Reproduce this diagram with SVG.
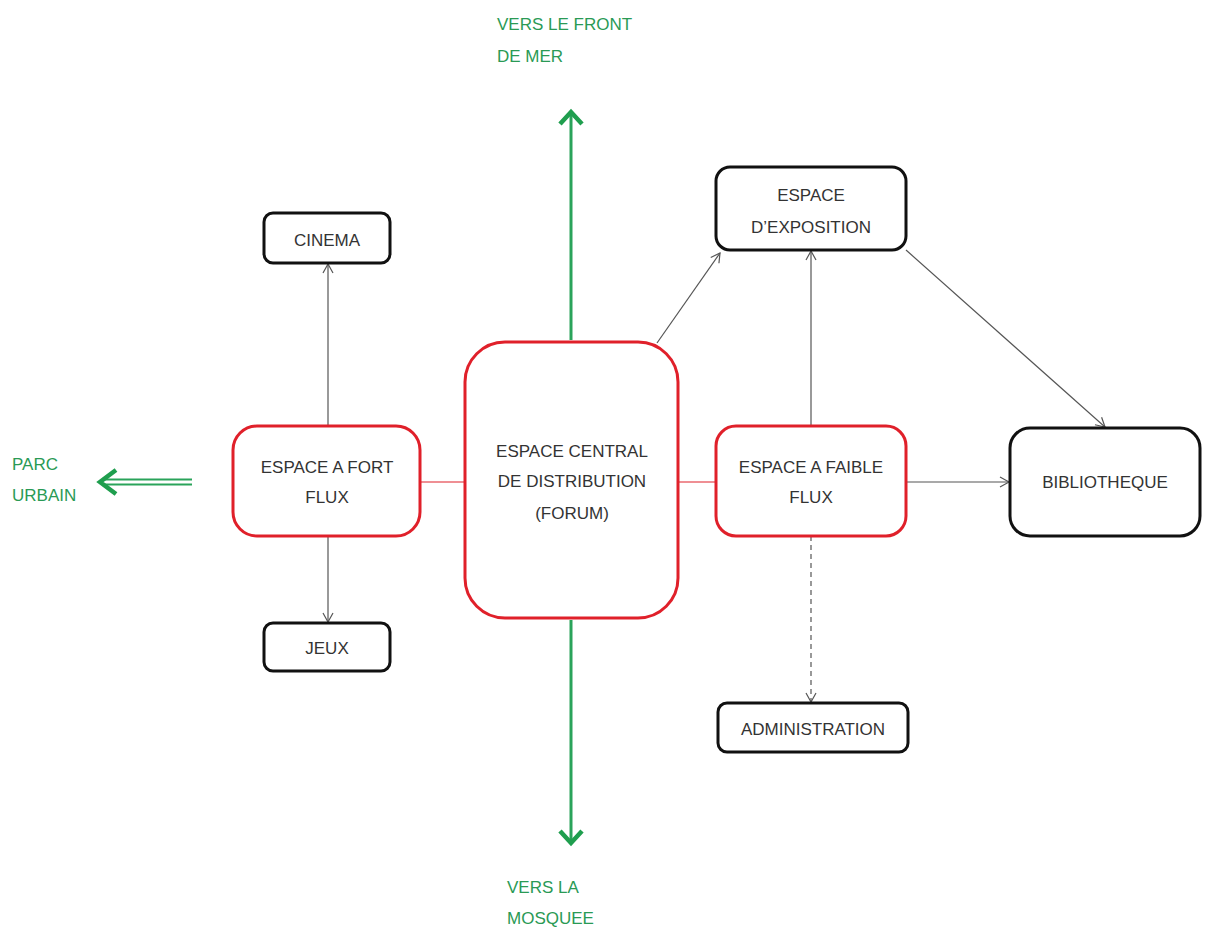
<svg xmlns="http://www.w3.org/2000/svg" width="1205" height="935" viewBox="0 0 1205 935">
<style>
.red{fill:#fff;stroke:#e0202a;stroke-width:3}
.blk{fill:#fff;stroke:#111;stroke-width:3}
.t{font-family:"Liberation Sans Narrow","Liberation Sans",Arial,sans-serif;font-size:17px;fill:#333;text-anchor:middle}
.g{font-family:"Liberation Sans Narrow","Liberation Sans",Arial,sans-serif;font-size:17px;fill:#2a9a55}
.c{stroke:#555;stroke-width:1.2;fill:none}
.gl{stroke:#2aa35a;stroke-width:3;fill:none}
</style>
<defs>
<marker id="a" markerWidth="12" markerHeight="12" refX="10" refY="6" orient="auto" markerUnits="userSpaceOnUse">
<path d="M1,1 L10,6 L1,11" fill="none" stroke="#555" stroke-width="1.2"/>
</marker>
<marker id="ga" markerWidth="30" markerHeight="30" refX="24" refY="15" orient="auto" markerUnits="userSpaceOnUse">
<path d="M12,4 L24,15 L12,26" fill="none" stroke="#1f9e4e" stroke-width="4.5"/>
</marker>
</defs>
<g id="connectors">
<line class="c" x1="328" y1="426" x2="328" y2="264" marker-end="url(#a)"/>
<line class="c" x1="328" y1="536" x2="328" y2="622" marker-end="url(#a)"/>
<line x1="420" y1="482" x2="465" y2="482" stroke="#e0202a" stroke-width="1.2"/>
<line x1="678" y1="482" x2="716" y2="482" stroke="#e0202a" stroke-width="1.2"/>
<line class="c" x1="657" y1="343" x2="720" y2="253" marker-end="url(#a)"/>
<line class="c" x1="811" y1="426" x2="811" y2="251" marker-end="url(#a)"/>
<line class="c" x1="906" y1="250" x2="1105" y2="427" marker-end="url(#a)"/>
<line class="c" x1="906" y1="482" x2="1009" y2="482" marker-end="url(#a)"/>
<line class="c" x1="811" y1="536" x2="811" y2="702" stroke-dasharray="5,4" marker-end="url(#a)"/>
<line class="gl" x1="571" y1="340" x2="571" y2="112" marker-end="url(#ga)"/>
<line class="gl" x1="571" y1="620" x2="571" y2="843" marker-end="url(#ga)"/>
<line x1="192" y1="479.5" x2="104" y2="479.5" stroke="#2aa35a" stroke-width="2"/>
<line x1="192" y1="484.5" x2="104" y2="484.5" stroke="#2aa35a" stroke-width="2"/>
<path d="M116,470 L100,482 L116,494" fill="none" stroke="#1f9e4e" stroke-width="4.5"/>
</g>
<g id="cinema"><rect class="blk" x="264" y="213" width="126" height="50" rx="9"/><text class="t" x="327" y="246">CINEMA</text></g>
<g id="fort"><rect class="red" x="233" y="426" width="187" height="110" rx="24"/><text class="t" x="327" y="473">ESPACE A FORT</text><text class="t" x="327" y="503">FLUX</text></g>
<g id="jeux"><rect class="blk" x="264" y="623" width="126" height="48" rx="9"/><text class="t" x="327" y="654">JEUX</text></g>
<g id="forum"><rect class="red" x="465" y="342" width="213" height="276" rx="40"/><text class="t" x="572" y="457">ESPACE CENTRAL</text><text class="t" x="572" y="487">DE DISTRIBUTION</text><text class="t" x="572" y="519">(FORUM)</text></g>
<g id="faible"><rect class="red" x="716" y="426" width="190" height="110" rx="20"/><text class="t" x="811" y="473">ESPACE A FAIBLE</text><text class="t" x="811" y="503">FLUX</text></g>
<g id="exposition"><rect class="blk" x="716" y="167" width="190" height="83" rx="14"/><text class="t" x="811" y="201">ESPACE</text><text class="t" x="811" y="233">D’EXPOSITION</text></g>
<g id="bibliotheque"><rect class="blk" x="1010" y="428" width="190" height="108" rx="20"/><text class="t" x="1105" y="488">BIBLIOTHEQUE</text></g>
<g id="administration"><rect class="blk" x="718" y="703" width="190" height="49" rx="9"/><text class="t" x="813" y="735">ADMINISTRATION</text></g>
<g id="labels">
<text class="g" x="497" y="30">VERS LE FRONT</text><text class="g" x="497" y="62">DE MER</text>
<text class="g" x="12" y="470">PARC</text><text class="g" x="12" y="501">URBAIN</text>
<text class="g" x="507" y="893">VERS LA</text><text class="g" x="507" y="924">MOSQUEE</text>
</g>
</svg>
